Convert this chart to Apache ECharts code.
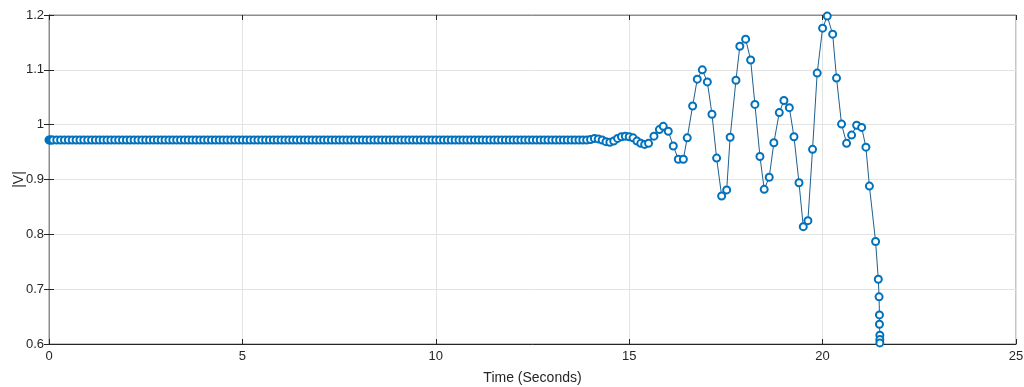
<!DOCTYPE html>
<html>
<head>
<meta charset="utf-8">
<script src="https://cdn.jsdelivr.net/npm/echarts@6/dist/echarts.min.js"></script>
<style>
  html, body { margin: 0; padding: 0; background: #fff; }
  #chart { width: 1024px; height: 387px; }
</style>
</head>
<body>
<div id="chart"></div>
<script>
// time stamps (s)
const time = [
  0, 0.03, 0.06, 0.1, 0.2, 0.3, 0.4, 0.5, 0.6, 0.7, 0.8, 0.9,
  1.0, 1.1, 1.2, 1.3, 1.4, 1.5, 1.6, 1.7, 1.8, 1.9,
  2.0, 2.1, 2.2, 2.3, 2.4, 2.5, 2.6, 2.7, 2.8, 2.9,
  3.0, 3.1, 3.2, 3.3, 3.4, 3.5, 3.6, 3.7, 3.8, 3.9,
  4.0, 4.1, 4.2, 4.3, 4.4, 4.5, 4.6, 4.7, 4.8, 4.9,
  5.0, 5.1, 5.2, 5.3, 5.4, 5.5, 5.6, 5.7, 5.8, 5.9,
  6.0, 6.1, 6.2, 6.3, 6.4, 6.5, 6.6, 6.7, 6.8, 6.9,
  7.0, 7.1, 7.2, 7.3, 7.4, 7.5, 7.6, 7.7, 7.8, 7.9,
  8.0, 8.1, 8.2, 8.3, 8.4, 8.5, 8.6, 8.7, 8.8, 8.9,
  9.0, 9.1, 9.2, 9.3, 9.4, 9.5, 9.6, 9.7, 9.8, 9.9,
  10.0, 10.1, 10.2, 10.3, 10.4, 10.5, 10.6, 10.7, 10.8, 10.9,
  11.0, 11.1, 11.2, 11.3, 11.4, 11.5, 11.6, 11.7, 11.8, 11.9,
  12.0, 12.1, 12.2, 12.3, 12.4, 12.5, 12.6, 12.7, 12.8, 12.9,
  13.0, 13.1, 13.2, 13.3, 13.4, 13.5, 13.6, 13.7, 13.8, 13.9,
  14.0, 14.1, 14.2, 14.3, 14.4, 14.5, 14.6, 14.7, 14.8, 14.9,
  15.0, 15.1, 15.2, 15.3, 15.4, 15.5,
  15.64, 15.78, 15.88, 16.01, 16.14, 16.27, 16.40, 16.50, 16.64, 16.76,
  16.89, 17.02, 17.14, 17.26, 17.39, 17.52, 17.61, 17.76, 17.86, 18.01,
  18.14, 18.25, 18.38, 18.49, 18.62, 18.74, 18.88, 19.00, 19.14, 19.26,
  19.39, 19.50, 19.62, 19.74, 19.86, 20.00, 20.12, 20.26, 20.36, 20.49,
  20.62, 20.75, 20.88, 21.01, 21.12, 21.21, 21.37, 21.44, 21.46, 21.47,
  21.47, 21.48, 21.48, 21.48
];

// |V| at each time stamp
const voltage = [
  0.972, 0.972, 0.972, 0.972, 0.972, 0.972, 0.972, 0.972, 0.972, 0.972, 0.972, 0.972,
  0.972, 0.972, 0.972, 0.972, 0.972, 0.972, 0.972, 0.972, 0.972, 0.972,
  0.972, 0.972, 0.972, 0.972, 0.972, 0.972, 0.972, 0.972, 0.972, 0.972,
  0.972, 0.972, 0.972, 0.972, 0.972, 0.972, 0.972, 0.972, 0.972, 0.972,
  0.972, 0.972, 0.972, 0.972, 0.972, 0.972, 0.972, 0.972, 0.972, 0.972,
  0.972, 0.972, 0.972, 0.972, 0.972, 0.972, 0.972, 0.972, 0.972, 0.972,
  0.972, 0.972, 0.972, 0.972, 0.972, 0.972, 0.972, 0.972, 0.972, 0.972,
  0.972, 0.972, 0.972, 0.972, 0.972, 0.972, 0.972, 0.972, 0.972, 0.972,
  0.972, 0.972, 0.972, 0.972, 0.972, 0.972, 0.972, 0.972, 0.972, 0.972,
  0.972, 0.972, 0.972, 0.972, 0.972, 0.972, 0.972, 0.972, 0.972, 0.972,
  0.972, 0.972, 0.972, 0.972, 0.972, 0.972, 0.972, 0.972, 0.972, 0.972,
  0.972, 0.972, 0.972, 0.972, 0.972, 0.972, 0.972, 0.972, 0.972, 0.972,
  0.972, 0.972, 0.972, 0.972, 0.972, 0.972, 0.972, 0.972, 0.972, 0.972,
  0.972, 0.972, 0.972, 0.972, 0.972, 0.972, 0.972, 0.972, 0.972, 0.972,
  0.973, 0.975, 0.974, 0.972, 0.969, 0.968, 0.970, 0.975, 0.978, 0.979,
  0.978, 0.976, 0.970, 0.966, 0.964, 0.966,
  0.979, 0.991, 0.997, 0.988, 0.961, 0.937, 0.937, 0.976, 1.034, 1.083,
  1.100, 1.078, 1.019, 0.939, 0.870, 0.881, 0.977, 1.081, 1.143, 1.156,
  1.118, 1.037, 0.942, 0.882, 0.904, 0.967, 1.022, 1.044, 1.031, 0.978,
  0.894, 0.814, 0.825, 0.955, 1.094, 1.176, 1.198, 1.165, 1.085, 1.001,
  0.966, 0.981, 0.999, 0.995, 0.959, 0.888, 0.787, 0.718, 0.686, 0.653,
  0.636, 0.616, 0.608, 0.602
];

const xTicks = [0, 5, 10, 15, 20, 25];
const yTicks = [0.6, 0.7, 0.8, 0.9, 1, 1.1, 1.2];

const lineBlue = '#0072BD';
const ink = '#262626';
const font = '"Liberation Sans", Arial, sans-serif';

const chart = echarts.init(document.getElementById('chart'), null, { renderer: 'canvas' });

const tickStyle = { show: true, inside: true, length: 5, lineStyle: { color: ink, width: 1 } };

chart.setOption({
  animation: false,
  textStyle: { fontFamily: font },
  grid: {
    left: 49, right: 8, top: 15, bottom: 43,
    outerBoundsMode: 'none', containLabel: false,
    show: true, borderColor: '#8c8c8c', borderWidth: 1, backgroundColor: '#fff'
  },
  xAxis: [
    {
      type: 'value', min: xTicks[0], max: xTicks[xTicks.length - 1], interval: 5,
      name: 'Time (Seconds)', nameLocation: 'middle', nameGap: 27, nameMoveOverlap: false,
      nameTextStyle: { color: ink, fontSize: 14, fontFamily: font },
      axisLine: { show: true, lineStyle: { color: ink, width: 1 } },
      axisTick: tickStyle,
      axisLabel: { color: ink, fontSize: 13, margin: 6, fontFamily: font },
      splitLine: { show: true, lineStyle: { color: '#e3e3e3', width: 1 } }
    },
    {
      type: 'value', position: 'top', min: xTicks[0], max: xTicks[xTicks.length - 1], interval: 5,
      axisLine: { show: true, lineStyle: { color: '#8c8c8c', width: 1 } },
      axisTick: tickStyle, axisLabel: { show: false }, splitLine: { show: false }
    }
  ],
  yAxis: [
    {
      type: 'value', min: yTicks[0], max: yTicks[yTicks.length - 1], interval: 0.1,
      name: '|V|', nameLocation: 'middle', nameGap: 23, nameRotate: 90, nameMoveOverlap: false,
      nameTextStyle: { color: ink, fontSize: 14, fontFamily: font },
      axisLine: { show: true, lineStyle: { color: ink, width: 1 } },
      axisTick: tickStyle,
      axisLabel: {
        color: ink, fontSize: 13, margin: 5, fontFamily: font,
        formatter: v => String(Math.round(v * 10) / 10)
      },
      splitLine: { show: true, lineStyle: { color: '#e3e3e3', width: 1 } }
    },
    {
      type: 'value', position: 'right', min: yTicks[0], max: yTicks[yTicks.length - 1], interval: 0.1,
      axisLine: { show: true, lineStyle: { color: '#8c8c8c', width: 1 } },
      axisTick: tickStyle, axisLabel: { show: false }, splitLine: { show: false }
    }
  ],
  series: [
    {
      type: 'line',
      data: time.map((t, i) => [t, voltage[i]]),
      symbol: 'emptyCircle',
      symbolSize: 7,
      showAllSymbol: true,
      clip: true,
      lineStyle: { color: '#1f5f8f', width: 1 },
      itemStyle: { color: lineBlue, borderColor: '#1a6ea8', borderWidth: 1 }
    }
  ]
});
</script>
</body>
</html>
